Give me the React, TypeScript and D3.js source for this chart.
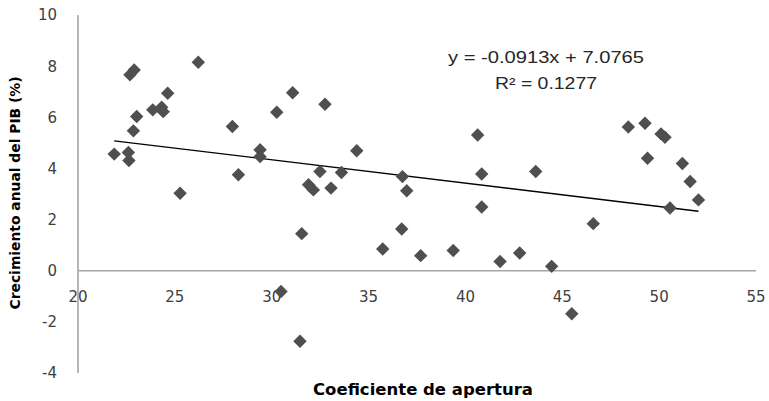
import { useEffect, useRef } from 'react';
import * as d3 from 'd3';

// Coeficiente de apertura (x) vs Crecimiento anual del PIB % (y)
const apertura = [
  21.87, 22.6, 22.63, 22.68, 22.9, 22.86, 23.03, 23.86, 24.32, 24.4, 24.63, 26.21, 25.27, 27.97,
  28.28, 29.4, 29.4, 30.26, 31.08, 32.75, 34.39, 32.49, 33.6, 31.9, 32.15, 33.06, 36.75, 36.97,
  31.55, 36.71, 35.73, 37.69, 39.37, 30.48, 31.46, 40.84, 41.79, 42.8, 44.45, 45.49, 46.6, 50.56,
  52.03, 40.63, 40.84, 43.63, 48.41, 49.27, 50.1, 50.3, 49.4, 51.2, 51.6,
];
const crecimiento = [
  4.56, 4.62, 4.31, 7.66, 7.85, 5.47, 6.03, 6.29, 6.39, 6.22, 6.94, 8.15, 3.03, 5.64,
  3.75, 4.73, 4.46, 6.2, 6.96, 6.51, 4.69, 3.88, 3.84, 3.36, 3.16, 3.23, 3.68, 3.13,
  1.45, 1.63, 0.85, 0.59, 0.79, -0.81, -2.76, 2.49, 0.36, 0.69, 0.17, -1.68, 1.84, 2.45,
  2.77, 5.31, 3.78, 3.88, 5.62, 5.77, 5.35, 5.22, 4.4, 4.19, 3.49,
];
const xTicks = [20, 25, 30, 35, 40, 45, 50, 55];
const yTicks = [-4, -2, 0, 2, 4, 6, 8, 10];
const slope = -0.0913;
const intercept = 7.0765;

export default function App() {
  const svgRef = useRef<SVGSVGElement>(null);

  useEffect(() => {
    const svg = d3.select(svgRef.current);
    svg.selectAll('*').remove();

    const W = 769;
    const H = 401;
    svg.attr('width', W).attr('height', H).attr('viewBox', `0 0 ${W} ${H}`);

    const x = d3.scaleLinear().domain([20, 55]).range([78, 756]);
    const y = d3.scaleLinear().domain([-4, 10]).range([373, 15]);

    const axisColor = '#a6a6a6';
    const textColor = '#404040';
    const tickFont = 'Verdana, "DejaVu Sans", sans-serif';
    const titleFont = 'Tahoma, "DejaVu Sans", sans-serif';

    // axes lines (no tick marks)
    svg.append('line')
      .attr('x1', x(20)).attr('x2', x(20))
      .attr('y1', y(10)).attr('y2', y(-4))
      .attr('stroke', axisColor).attr('stroke-width', 1.6);
    svg.append('line')
      .attr('x1', x(20)).attr('x2', x(55))
      .attr('y1', y(0)).attr('y2', y(0))
      .attr('stroke', axisColor).attr('stroke-width', 1.6);

    // tick labels
    svg.append('g')
      .selectAll('text')
      .data(yTicks)
      .join('text')
      .attr('x', 57)
      .attr('y', d => y(d))
      .attr('dy', '0.36em')
      .attr('text-anchor', 'end')
      .attr('font-family', tickFont)
      .attr('font-size', 15)
      .attr('fill', textColor)
      .text(d => String(d));

    svg.append('g')
      .selectAll('text')
      .data(xTicks)
      .join('text')
      .attr('x', d => x(d))
      .attr('y', 297)
      .attr('dy', '0.36em')
      .attr('text-anchor', 'middle')
      .attr('font-family', tickFont)
      .attr('font-size', 15)
      .attr('fill', textColor)
      .text(d => String(d));

    // trend line
    const [xmin, xmax] = d3.extent(apertura) as [number, number];
    svg.append('line')
      .attr('x1', x(xmin)).attr('y1', y(slope * xmin + intercept))
      .attr('x2', x(xmax)).attr('y2', y(slope * xmax + intercept))
      .attr('stroke', '#000').attr('stroke-width', 1.3);

    // points
    const pts = apertura.map((v, i) => ({ a: v, c: crecimiento[i] }));
    const diamond = d3.symbol().type(d3.symbolSquare).size(90);
    svg.append('g')
      .selectAll('path')
      .data(pts)
      .join('path')
      .attr('d', diamond)
      .attr('transform', d => `translate(${x(d.a)},${y(d.c)}) rotate(45)`)
      .attr('fill', '#4f4f4f');

    // equation
    svg.append('text')
      .attr('x', 546).attr('y', 57).attr('dy', '0.36em')
      .attr('text-anchor', 'middle')
      .attr('font-family', '"Liberation Sans", Arial, sans-serif')
      .attr('font-size', 16)
      .attr('textLength', 196)
      .attr('lengthAdjust', 'spacingAndGlyphs')
      .attr('fill', '#262626')
      .text(`y = ${slope}x + ${intercept}`);
    svg.append('text')
      .attr('x', 546).attr('y', 83).attr('dy', '0.36em')
      .attr('text-anchor', 'middle')
      .attr('font-family', '"Liberation Sans", Arial, sans-serif')
      .attr('font-size', 16)
      .attr('textLength', 102)
      .attr('lengthAdjust', 'spacingAndGlyphs')
      .attr('fill', '#262626')
      .text('R² = 0.1277');

    // axis titles
    svg.append('text')
      .attr('x', 423).attr('y', 390).attr('dy', '0.36em')
      .attr('text-anchor', 'middle')
      .attr('font-family', titleFont)
      .attr('font-weight', 'bold')
      .attr('font-size', 15)
      .attr('textLength', 220)
      .attr('lengthAdjust', 'spacingAndGlyphs')
      .attr('fill', '#000')
      .text('Coeficiente de apertura');
    svg.append('text')
      .attr('transform', 'translate(15,193) rotate(-90)')
      .attr('dy', '0.36em')
      .attr('text-anchor', 'middle')
      .attr('font-family', titleFont)
      .attr('font-weight', 'bold')
      .attr('font-size', 14)
      .attr('textLength', 233)
      .attr('lengthAdjust', 'spacingAndGlyphs')
      .attr('fill', '#000')
      .text('Crecimiento anual del PIB (%)');
  }, []);

  return (
    <div style={{ position: 'absolute', left: 0, top: 0, background: '#fff' }}>
      <svg ref={svgRef} style={{ display: 'block' }} />
    </div>
  );
}
